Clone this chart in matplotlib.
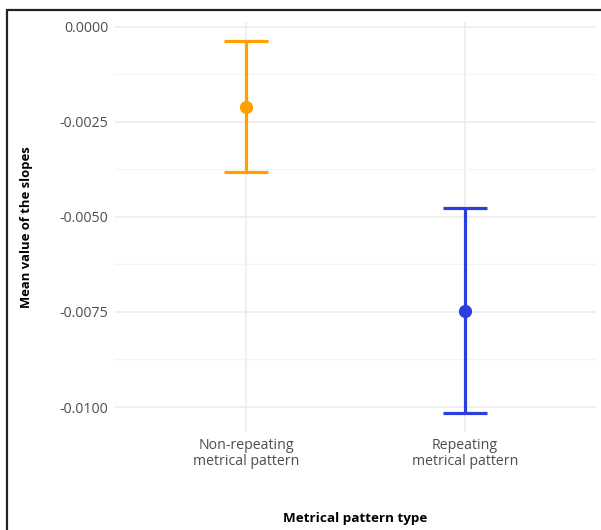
import numpy as np
import matplotlib
matplotlib.use("Agg")
import matplotlib.pyplot as plt
from matplotlib.patches import Rectangle

# adatok
categories = ["Non-repeating\nmetrical pattern", "Repeating\nmetrical pattern"]
means = [-0.00211, -0.00748]
lower = [-0.00382, -0.01017]
upper = [-0.00037, -0.00477]
colors = ["#FFA000", "#2B3FDE"]
yticks = [0.0, -0.0025, -0.005, -0.0075, -0.01]

plt.rcParams["font.family"] = ["Open Sans", "DejaVu Sans"]

fig = plt.figure(figsize=(6.01, 5.30), dpi=100)
ax = fig.add_axes([115 / 601, 1 - 432 / 530, 481 / 601, 410 / 530])

x = np.arange(1, len(categories) + 1)
for i in range(len(categories)):
    err = [[means[i] - lower[i]], [upper[i] - means[i]]]
    ax.errorbar(x[i], means[i], yerr=err, color=colors[i], fmt="o",
                markersize=8.5, elinewidth=2.3, capsize=21.8 * 0.72, capthick=2.3,
                zorder=3)

ax.set_xlim(0.4, 2.6)
ax.set_ylim(-0.010657, 0.000124)
ax.set_xticks(x)
ax.set_xticklabels(categories, fontsize=10.2, color="#4D4D4D", linespacing=1.15)
ax.set_yticks(yticks)
ax.set_yticklabels([f"{v:.4f}" for v in yticks], fontsize=10.2, color="#4D4D4D")
ax.set_yticks([-0.00125, -0.00375, -0.00625, -0.00875], minor=True)
ax.tick_params(axis="both", which="both", length=0)
ax.tick_params(axis="x", pad=4)
ax.tick_params(axis="y", pad=5)

ax.grid(True, which="major", color="#EBEBEB", linewidth=1.1)
ax.grid(True, which="minor", axis="y", color="#F4F4F4", linewidth=0.8)
ax.set_axisbelow(True)
for s in ax.spines.values():
    s.set_visible(False)

ax.set_xlabel("Metrical pattern type", fontsize=9.7, fontweight="bold", labelpad=31)
ax.set_ylabel("Mean value of the slopes", fontsize=9.4, fontweight="bold", labelpad=19)

# keret (jobb és alsó oldal levágva)
fig.patches.append(Rectangle((7 / 601, -0.1), 1.2, 1 - 10 / 530 + 0.1,
                             transform=fig.transFigure, fill=False,
                             edgecolor="#222222", linewidth=1.6))

fig.savefig("out.png", dpi=100)
